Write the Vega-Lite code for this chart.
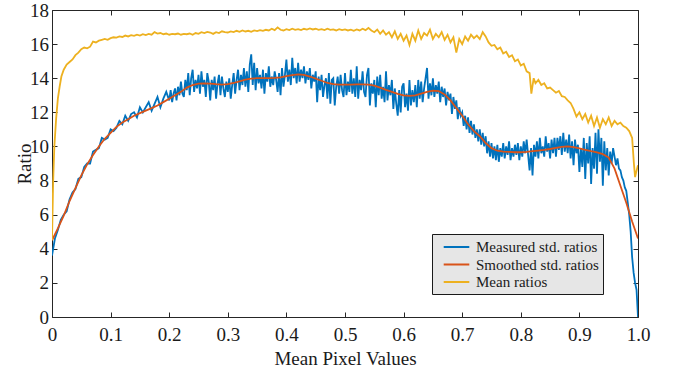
{
  "$schema": "https://vega.github.io/schema/vega-lite/v6.json",
  "width": 586,
  "height": 307,
  "autosize": {"type": "none"},
  "padding": {"left": 52, "top": 10, "right": 39, "bottom": 55},
  "background": "white",
  "config": {
    "view": {"stroke": "#262626", "strokeWidth": 1},
    "font": "Liberation Serif",
    "axis": {"grid": false, "domain": false, "tickColor": "#262626", "tickWidth": 1, "labelColor": "#1a1a1a", "titleColor": "#1a1a1a", "labelFont": "Liberation Serif", "titleFont": "Liberation Serif", "labelFontSize": 19, "titleFontSize": 19, "titleFontWeight": "normal"}
  },
  "data": {"values": [
    {"x":0,"m":3.6},{"x":0.005,"m":4.6},{"x":0.01,"m":5.1},{"x":0.015,"m":5.7},{"x":0.02,"m":6.0},{"x":0.025,"m":6.2},{"x":0.03,"m":6.9},{"x":0.035,"m":7.3},{"x":0.04,"m":7.5},{"x":0.045,"m":8.1},
    {"x":0.05,"m":8.2},{"x":0.055,"m":8.8},{"x":0.06,"m":9.0},{"x":0.065,"m":9.0},{"x":0.07,"m":9.7},{"x":0.075,"m":9.8},{"x":0.08,"m":9.9},{"x":0.085,"m":10.5},{"x":0.09,"m":10.4},{"x":0.095,"m":10.5},
    {"x":0.1,"m":11.0},{"x":0.105,"m":10.9},{"x":0.11,"m":11.1},{"x":0.115,"m":11.5},{"x":0.12,"m":11.3},{"x":0.125,"m":11.8},{"x":0.13,"m":11.5},{"x":0.135,"m":11.9},{"x":0.14,"m":12.0},{"x":0.145,"m":11.7},
    {"x":0.15,"m":12.3},{"x":0.155,"m":12.0},{"x":0.16,"m":12.3},{"x":0.165,"m":12.6},{"x":0.17,"m":12.1},{"x":0.175,"m":12.5},{"x":0.18,"m":12.9},{"x":0.185,"m":12.3},{"x":0.19,"m":12.8},{"x":0.195,"m":13.2},
    {"x":0.2,"m":12.7},{"x":0.2025,"m":13.3},{"x":0.205,"m":12.6},{"x":0.2075,"m":13.1},
    {"x":0.21,"m":13.4},{"x":0.2125,"m":12.7},{"x":0.215,"m":13.5},{"x":0.2175,"m":13.0},
    {"x":0.22,"m":13.8},{"x":0.2225,"m":13.1},{"x":0.225,"m":12.9},{"x":0.2275,"m":13.9},
    {"x":0.23,"m":13.3},{"x":0.2325,"m":14.3},{"x":0.235,"m":13.0},{"x":0.2375,"m":14.0},
    {"x":0.24,"m":14.5},{"x":0.2425,"m":13.2},{"x":0.245,"m":13.9},{"x":0.2475,"m":13.4},
    {"x":0.25,"m":14.2},{"x":0.2525,"m":13.1},{"x":0.255,"m":14.4},{"x":0.2575,"m":13.5},
    {"x":0.26,"m":13.9},{"x":0.2625,"m":12.9},{"x":0.265,"m":14.3},{"x":0.2675,"m":13.8},
    {"x":0.27,"m":12.7},{"x":0.2725,"m":13.9},{"x":0.275,"m":13.3},{"x":0.2775,"m":14.1},
    {"x":0.28,"m":12.8},{"x":0.2825,"m":13.7},{"x":0.285,"m":14.2},{"x":0.2875,"m":13.0},
    {"x":0.29,"m":14.1},{"x":0.2925,"m":13.4},{"x":0.295,"m":12.9},{"x":0.2975,"m":13.8},
    {"x":0.3,"m":13.2},{"x":0.3025,"m":14.0},{"x":0.305,"m":12.8},{"x":0.3075,"m":13.6},
    {"x":0.31,"m":14.3},{"x":0.3125,"m":13.1},{"x":0.315,"m":13.9},{"x":0.3175,"m":14.5},
    {"x":0.32,"m":13.3},{"x":0.3225,"m":14.2},{"x":0.325,"m":13.6},{"x":0.3275,"m":14.6},
    {"x":0.33,"m":13.5},{"x":0.3325,"m":14.4},{"x":0.335,"m":13.2},{"x":0.3375,"m":14.8},
    {"x":0.34,"m":15.4},{"x":0.3425,"m":13.6},{"x":0.345,"m":14.9},{"x":0.3475,"m":13.3},
    {"x":0.35,"m":14.6},{"x":0.3525,"m":13.7},{"x":0.355,"m":14.2},{"x":0.3575,"m":13.4},
    {"x":0.36,"m":14.5},{"x":0.3625,"m":13.1},{"x":0.365,"m":14.3},{"x":0.3675,"m":13.8},
    {"x":0.37,"m":14.7},{"x":0.3725,"m":13.5},{"x":0.375,"m":14.1},{"x":0.3775,"m":13.6},
    {"x":0.38,"m":14.4},{"x":0.3825,"m":13.9},{"x":0.385,"m":13.2},{"x":0.3875,"m":14.3},
    {"x":0.39,"m":13.0},{"x":0.3925,"m":14.6},{"x":0.395,"m":13.5},{"x":0.3975,"m":14.2},
    {"x":0.4,"m":15.1},{"x":0.4025,"m":13.8},{"x":0.405,"m":14.5},{"x":0.4075,"m":13.6},
    {"x":0.41,"m":15.2},{"x":0.4125,"m":14.0},{"x":0.415,"m":14.6},{"x":0.4175,"m":13.7},
    {"x":0.42,"m":14.9},{"x":0.4225,"m":13.8},{"x":0.425,"m":14.5},{"x":0.4275,"m":14.0},
    {"x":0.43,"m":14.7},{"x":0.4325,"m":13.7},{"x":0.435,"m":14.4},{"x":0.4375,"m":13.9},
    {"x":0.44,"m":14.6},{"x":0.4425,"m":13.4},{"x":0.445,"m":14.2},{"x":0.4475,"m":13.8},
    {"x":0.45,"m":14.4},{"x":0.4525,"m":12.6},{"x":0.455,"m":14.1},{"x":0.4575,"m":13.3},
    {"x":0.46,"m":14.2},{"x":0.4625,"m":12.9},{"x":0.465,"m":13.6},{"x":0.4675,"m":14.0},
    {"x":0.47,"m":12.8},{"x":0.4725,"m":14.3},{"x":0.475,"m":12.5},{"x":0.4775,"m":13.9},
    {"x":0.48,"m":14.0},{"x":0.4825,"m":12.4},{"x":0.485,"m":13.5},{"x":0.4875,"m":14.1},
    {"x":0.49,"m":13.1},{"x":0.4925,"m":14.2},{"x":0.495,"m":13.3},{"x":0.4975,"m":12.9},
    {"x":0.5,"m":14.3},{"x":0.5025,"m":13.0},{"x":0.505,"m":13.8},{"x":0.5075,"m":13.2},
    {"x":0.51,"m":14.5},{"x":0.5125,"m":13.1},{"x":0.515,"m":14.0},{"x":0.5175,"m":12.9},
    {"x":0.52,"m":14.7},{"x":0.5225,"m":12.8},{"x":0.525,"m":13.9},{"x":0.5275,"m":13.3},
    {"x":0.53,"m":14.4},{"x":0.5325,"m":13.2},{"x":0.535,"m":12.9},{"x":0.5375,"m":14.2},
    {"x":0.54,"m":14.6},{"x":0.5425,"m":12.4},{"x":0.545,"m":13.7},{"x":0.5475,"m":13.1},
    {"x":0.55,"m":13.9},{"x":0.5525,"m":12.3},{"x":0.555,"m":14.1},{"x":0.5575,"m":13.0},
    {"x":0.56,"m":14.2},{"x":0.5625,"m":12.8},{"x":0.565,"m":13.5},{"x":0.5675,"m":12.6},
    {"x":0.57,"m":14.4},{"x":0.5725,"m":12.7},{"x":0.575,"m":13.6},{"x":0.5775,"m":13.0},
    {"x":0.58,"m":13.9},{"x":0.5825,"m":12.2},{"x":0.585,"m":13.4},{"x":0.5875,"m":12.5},
    {"x":0.59,"m":11.8},{"x":0.5925,"m":13.3},{"x":0.595,"m":12.0},{"x":0.5975,"m":13.5},
    {"x":0.6,"m":13.7},{"x":0.6025,"m":12.3},{"x":0.605,"m":13.1},{"x":0.6075,"m":12.1},
    {"x":0.61,"m":13.9},{"x":0.6125,"m":12.4},{"x":0.615,"m":13.3},{"x":0.6175,"m":12.6},
    {"x":0.62,"m":13.6},{"x":0.6225,"m":12.3},{"x":0.625,"m":13.9},{"x":0.6275,"m":12.8},
    {"x":0.63,"m":13.8},{"x":0.6325,"m":12.6},{"x":0.635,"m":13.4},{"x":0.6375,"m":14.0},
    {"x":0.64,"m":14.6},{"x":0.6425,"m":12.8},{"x":0.645,"m":13.7},{"x":0.6475,"m":13.0},
    {"x":0.65,"m":14.0},{"x":0.6525,"m":12.9},{"x":0.655,"m":13.6},{"x":0.6575,"m":13.1},
    {"x":0.66,"m":13.8},{"x":0.6625,"m":12.6},{"x":0.665,"m":13.5},{"x":0.6675,"m":12.9},
    {"x":0.67,"m":13.4},{"x":0.6725,"m":12.4},{"x":0.675,"m":13.2},{"x":0.6775,"m":12.7},
    {"x":0.68,"m":13.1},{"x":0.6825,"m":11.9},{"x":0.685,"m":12.9},{"x":0.6875,"m":12.2},
    {"x":0.69,"m":12.7},{"x":0.6925,"m":11.6},{"x":0.695,"m":12.3},{"x":0.6975,"m":11.8},
    {"x":0.7,"m":12.0},{"x":0.7025,"m":11.2},{"x":0.705,"m":11.8},{"x":0.7075,"m":11.0},
    {"x":0.71,"m":11.7},{"x":0.7125,"m":10.8},{"x":0.715,"m":11.5},{"x":0.7175,"m":10.7},
    {"x":0.72,"m":11.3},{"x":0.7225,"m":10.5},{"x":0.725,"m":11.0},{"x":0.7275,"m":10.3},
    {"x":0.73,"m":11.0},{"x":0.7325,"m":10.1},{"x":0.735,"m":10.8},{"x":0.7375,"m":10.0},
    {"x":0.74,"m":10.6},{"x":0.7425,"m":9.6},{"x":0.745,"m":10.3},{"x":0.7475,"m":9.4},
    {"x":0.75,"m":10.2},{"x":0.7525,"m":9.3},{"x":0.755,"m":10.0},{"x":0.7575,"m":9.2},
    {"x":0.76,"m":10.1},{"x":0.7625,"m":9.1},{"x":0.765,"m":9.9},{"x":0.7675,"m":9.4},
    {"x":0.77,"m":10.2},{"x":0.7725,"m":9.3},{"x":0.775,"m":10.0},{"x":0.7775,"m":9.5},
    {"x":0.78,"m":10.3},{"x":0.7825,"m":9.2},{"x":0.785,"m":9.9},{"x":0.7875,"m":9.4},
    {"x":0.79,"m":10.1},{"x":0.7925,"m":9.5},{"x":0.795,"m":10.2},{"x":0.7975,"m":9.2},
    {"x":0.8,"m":10.0},{"x":0.8025,"m":9.4},{"x":0.805,"m":10.3},{"x":0.8075,"m":9.6},
    {"x":0.81,"m":10.4},{"x":0.8125,"m":9.5},{"x":0.815,"m":8.6},{"x":0.8175,"m":9.9},
    {"x":0.82,"m":8.3},{"x":0.8225,"m":10.1},{"x":0.825,"m":9.4},{"x":0.8275,"m":10.3},
    {"x":0.83,"m":9.3},{"x":0.8325,"m":10.5},{"x":0.835,"m":9.6},{"x":0.8375,"m":10.0},
    {"x":0.84,"m":9.4},{"x":0.8425,"m":10.6},{"x":0.845,"m":9.7},{"x":0.8475,"m":10.2},
    {"x":0.85,"m":9.3},{"x":0.8525,"m":10.4},{"x":0.855,"m":9.6},{"x":0.8575,"m":10.5},
    {"x":0.86,"m":9.4},{"x":0.8625,"m":10.5},{"x":0.865,"m":9.8},{"x":0.8675,"m":10.6},
    {"x":0.87,"m":9.5},{"x":0.8725,"m":10.8},{"x":0.875,"m":9.7},{"x":0.8775,"m":10.4},
    {"x":0.88,"m":9.6},{"x":0.8825,"m":10.7},{"x":0.885,"m":9.3},{"x":0.8875,"m":10.3},
    {"x":0.89,"m":8.9},{"x":0.8925,"m":10.4},{"x":0.895,"m":9.6},{"x":0.8975,"m":10.1},
    {"x":0.9,"m":8.5},{"x":0.9025,"m":9.9},{"x":0.905,"m":8.8},{"x":0.9075,"m":10.5},
    {"x":0.91,"m":8.1},{"x":0.9125,"m":10.2},{"x":0.915,"m":9.0},{"x":0.9175,"m":10.6},
    {"x":0.92,"m":7.8},{"x":0.9225,"m":9.9},{"x":0.925,"m":8.7},{"x":0.9275,"m":10.8},
    {"x":0.93,"m":8.4},{"x":0.9325,"m":11.0},{"x":0.935,"m":9.1},{"x":0.9375,"m":10.5},
    {"x":0.94,"m":7.7},{"x":0.9425,"m":10.3},{"x":0.945,"m":8.6},{"x":0.9475,"m":9.9},
    {"x":0.95,"m":8.3},{"x":0.9525,"m":9.7},{"x":0.955,"m":9.0},{"x":0.9575,"m":9.9},
    {"x":0.96,"m":9.4},{"x":0.9625,"m":8.9},{"x":0.965,"m":9.3},{"x":0.9675,"m":8.7},
    {"x":0.97,"m":8.6},{"x":0.9725,"m":8.2},{"x":0.975,"m":8.0},{"x":0.9775,"m":7.6},
    {"x":0.98,"m":7.4},{"x":0.9825,"m":6.7},{"x":0.985,"m":6.0},{"x":0.9875,"m":5.0},
    {"x":0.99,"m":3.5},{"x":0.9925,"m":2.6},{"x":0.995,"m":2.0},{"x":0.9975,"m":1.6},{"x":1.0,"m":0.0},

    {"x":0,"s":4.5,"n":4.5},
    {"x":0.002,"n":8.0},
    {"x":0.004,"n":10.0},
    {"x":0.007,"n":11.6},
    {"x":0.01,"s":5.2,"n":12.8},
    {"x":0.013,"n":13.5},
    {"x":0.016,"n":14.1},
    {"x":0.02,"s":5.95,"n":14.5},
    {"x":0.025,"n":14.8},
    {"x":0.03,"s":6.8,"n":14.95},
    {"x":0.035,"n":15.1},
    {"x":0.04,"s":7.55,"n":15.35},
    {"x":0.045,"n":15.5},
    {"x":0.05,"s":8.3,"n":15.7},
    {"x":0.055,"n":15.8},
    {"x":0.06,"s":8.95,"n":15.75},
    {"x":0.065,"n":15.85},
    {"x":0.07,"s":9.5,"n":16.15},
    {"x":0.075,"n":16.1},
    {"x":0.08,"s":10.0,"n":16.2},
    {"x":0.085,"n":16.25},
    {"x":0.09,"s":10.45,"n":16.3},
    {"x":0.095,"n":16.25},
    {"x":0.1,"s":10.8,"n":16.35},
    {"x":0.105,"n":16.4},
    {"x":0.11,"s":11.15,"n":16.38},
    {"x":0.115,"n":16.45},
    {"x":0.12,"s":11.4,"n":16.42},
    {"x":0.125,"n":16.5},
    {"x":0.13,"s":11.6,"n":16.45},
    {"x":0.135,"n":16.52},
    {"x":0.14,"s":11.8,"n":16.48},
    {"x":0.145,"n":16.55},
    {"x":0.15,"s":11.95,"n":16.5},
    {"x":0.155,"n":16.58},
    {"x":0.16,"s":12.1,"n":16.53},
    {"x":0.165,"n":16.6},
    {"x":0.17,"s":12.25,"n":16.55},
    {"x":0.175,"n":16.7},
    {"x":0.18,"s":12.4,"n":16.62},
    {"x":0.185,"n":16.65},
    {"x":0.19,"s":12.6,"n":16.58},
    {"x":0.195,"n":16.62},
    {"x":0.2,"s":12.8,"n":16.55},
    {"x":0.205,"n":16.6},
    {"x":0.21,"s":13.0,"n":16.58},
    {"x":0.215,"n":16.62},
    {"x":0.22,"s":13.2,"n":16.55},
    {"x":0.225,"n":16.6},
    {"x":0.23,"s":13.45,"n":16.58},
    {"x":0.235,"n":16.62},
    {"x":0.24,"s":13.6,"n":16.55},
    {"x":0.245,"n":16.65},
    {"x":0.25,"s":13.68,"n":16.6},
    {"x":0.255,"n":16.7},
    {"x":0.26,"s":13.7,"n":16.65},
    {"x":0.265,"n":16.72},
    {"x":0.27,"s":13.68,"n":16.68},
    {"x":0.275,"n":16.6},
    {"x":0.28,"s":13.65,"n":16.7},
    {"x":0.285,"n":16.65},
    {"x":0.29,"s":13.63,"n":16.75},
    {"x":0.295,"n":16.7},
    {"x":0.3,"s":13.65,"n":16.68},
    {"x":0.305,"n":16.74},
    {"x":0.31,"s":13.72,"n":16.7},
    {"x":0.315,"n":16.78},
    {"x":0.32,"s":13.82,"n":16.72},
    {"x":0.325,"n":16.8},
    {"x":0.33,"s":13.92,"n":16.74},
    {"x":0.335,"n":16.78},
    {"x":0.34,"s":13.98,"n":16.72},
    {"x":0.345,"n":16.8},
    {"x":0.35,"s":14.0,"n":16.76},
    {"x":0.355,"n":16.82},
    {"x":0.36,"s":14.0,"n":16.78},
    {"x":0.365,"n":16.84},
    {"x":0.37,"s":14.0,"n":16.8},
    {"x":0.375,"n":16.9},
    {"x":0.38,"s":14.02,"n":16.82},
    {"x":0.385,"n":16.98},
    {"x":0.39,"s":14.05,"n":16.84},
    {"x":0.395,"n":16.8},
    {"x":0.4,"s":14.12,"n":16.88},
    {"x":0.405,"n":16.82},
    {"x":0.41,"s":14.18,"n":16.9},
    {"x":0.415,"n":16.84},
    {"x":0.42,"s":14.22,"n":16.88},
    {"x":0.425,"n":16.82},
    {"x":0.43,"s":14.2,"n":16.9},
    {"x":0.435,"n":16.85},
    {"x":0.44,"s":14.1,"n":16.92},
    {"x":0.445,"n":16.86},
    {"x":0.45,"s":13.98,"n":16.9},
    {"x":0.455,"n":16.84},
    {"x":0.46,"s":13.85,"n":16.88},
    {"x":0.465,"n":16.82},
    {"x":0.47,"s":13.72,"n":16.9},
    {"x":0.475,"n":16.84},
    {"x":0.48,"s":13.65,"n":16.86},
    {"x":0.485,"n":16.8},
    {"x":0.49,"s":13.62,"n":16.88},
    {"x":0.495,"n":16.82},
    {"x":0.5,"s":13.62,"n":16.86},
    {"x":0.505,"n":16.8},
    {"x":0.51,"s":13.63,"n":16.85},
    {"x":0.515,"n":16.78},
    {"x":0.52,"s":13.64,"n":16.86},
    {"x":0.525,"n":16.8},
    {"x":0.53,"s":13.64,"n":16.9},
    {"x":0.535,"n":16.82},
    {"x":0.54,"s":13.62,"n":16.95},
    {"x":0.545,"n":16.8},
    {"x":0.55,"s":13.56,"n":16.7},
    {"x":0.555,"n":16.85},
    {"x":0.56,"s":13.45,"n":16.6},
    {"x":0.565,"n":16.8},
    {"x":0.57,"s":13.32,"n":16.55},
    {"x":0.575,"n":16.7},
    {"x":0.58,"s":13.2,"n":16.4},
    {"x":0.585,"n":16.75},
    {"x":0.59,"s":13.08,"n":16.3},
    {"x":0.595,"n":16.6},
    {"x":0.6,"s":13.0,"n":16.2},
    {"x":0.605,"n":16.5},
    {"x":0.61,"s":12.97,"n":15.95},
    {"x":0.615,"n":16.6},
    {"x":0.62,"s":13.0,"n":16.2},
    {"x":0.625,"n":16.8},
    {"x":0.63,"s":13.1,"n":16.3},
    {"x":0.635,"n":16.65},
    {"x":0.64,"s":13.2,"n":16.5},
    {"x":0.645,"n":16.85},
    {"x":0.65,"s":13.27,"n":16.3},
    {"x":0.655,"n":16.6},
    {"x":0.66,"s":13.25,"n":16.4},
    {"x":0.665,"n":16.7},
    {"x":0.67,"s":13.05,"n":16.25},
    {"x":0.675,"n":16.55},
    {"x":0.68,"s":12.7,"n":16.1},
    {"x":0.685,"n":16.4},
    {"x":0.69,"s":12.25,"n":15.5},
    {"x":0.695,"n":16.3},
    {"x":0.7,"s":11.8,"n":16.0},
    {"x":0.705,"n":16.45},
    {"x":0.71,"s":11.3,"n":16.2},
    {"x":0.715,"n":16.55},
    {"x":0.72,"s":10.9,"n":16.35},
    {"x":0.725,"n":16.5},
    {"x":0.73,"s":10.6,"n":16.3},
    {"x":0.735,"n":16.7},
    {"x":0.74,"s":10.2,"n":16.45},
    {"x":0.745,"n":16.1},
    {"x":0.75,"s":9.9,"n":15.9},
    {"x":0.755,"n":15.95},
    {"x":0.76,"s":9.75,"n":15.7},
    {"x":0.765,"n":15.8},
    {"x":0.77,"s":9.7,"n":15.45},
    {"x":0.775,"n":15.55},
    {"x":0.78,"s":9.68,"n":15.25},
    {"x":0.785,"n":15.35},
    {"x":0.79,"s":9.66,"n":15.0},
    {"x":0.795,"n":15.1},
    {"x":0.8,"s":9.66,"n":14.75},
    {"x":0.805,"n":14.85},
    {"x":0.81,"s":9.68,"n":14.4},
    {"x":0.815,"n":14.3},
    {"x":0.818,"n":13.1},
    {"x":0.82,"s":9.72},
    {"x":0.822,"n":14.0},
    {"x":0.825,"n":13.7},
    {"x":0.83,"s":9.76,"n":13.9},
    {"x":0.835,"n":13.6},
    {"x":0.84,"s":9.8,"n":13.7},
    {"x":0.845,"n":13.4},
    {"x":0.85,"s":9.85,"n":13.45},
    {"x":0.855,"n":13.3},
    {"x":0.86,"s":9.92,"n":13.15},
    {"x":0.865,"n":13.25},
    {"x":0.87,"s":9.98,"n":12.95},
    {"x":0.875,"n":12.9},
    {"x":0.88,"s":10.0,"n":12.7},
    {"x":0.885,"n":12.55},
    {"x":0.89,"s":9.96,"n":12.2},
    {"x":0.895,"n":11.75},
    {"x":0.9,"s":9.88,"n":12.0},
    {"x":0.905,"n":11.6},
    {"x":0.91,"s":9.8,"n":11.9},
    {"x":0.915,"n":11.4},
    {"x":0.92,"s":9.72,"n":11.8},
    {"x":0.925,"n":11.2},
    {"x":0.93,"s":9.65,"n":11.7},
    {"x":0.935,"n":11.1},
    {"x":0.94,"s":9.55,"n":11.6},
    {"x":0.945,"n":11.3},
    {"x":0.95,"s":9.35,"n":11.7},
    {"x":0.955,"n":11.2},
    {"x":0.96,"s":8.7,"n":11.5},
    {"x":0.965,"n":11.3},
    {"x":0.97,"s":7.7,"n":11.4},
    {"x":0.975,"n":11.2},
    {"x":0.98,"s":6.7,"n":11.1},
    {"x":0.985,"n":10.9},
    {"x":0.99,"s":5.6,"n":10.5},
    {"x":0.993,"n":9.0},
    {"x":0.995,"n":8.2},
    {"x":0.997,"n":8.5},
    {"x":1.0,"s":4.6,"n":8.9}
  ]},
  "transform": [
    {"fold": ["m", "s", "n"], "as": ["k", "y"]},
    {"filter": "isValid(datum.y)"}
  ],
  "layer": [
    {
      "mark": {"type": "line", "strokeWidth": 1.8, "clip": true},
      "encoding": {
        "x": {"field": "x", "type": "quantitative", "scale": {"domain": [0, 1], "nice": false},
              "axis": {"orient": "bottom", "values": [0,0.1,0.2,0.3,0.4,0.5,0.6,0.7,0.8,0.9,1.0], "labelExpr": "datum.value == 0 ? '0' : format(datum.value, '.1f')", "tickSize": -5, "labelPadding": 28, "labelBaseline": "alphabetic", "title": "Mean Pixel Values", "titleBaseline": "alphabetic", "titleY": 47, "labelFlush": false}},
        "y": {"field": "y", "type": "quantitative", "scale": {"domain": [0, 18], "nice": false},
              "axis": {"orient": "left", "values": [0,2,4,6,8,10,12,14,16,18], "tickSize": -5, "labelPadding": 8.5, "title": "Ratio", "titleBaseline": "alphabetic", "titleAngle": 270, "titleX": -22, "titleY": 153.5, "titleAlign": "center", "labelFlush": false}},
        "color": {"field": "k", "type": "nominal",
                  "scale": {"domain": ["m", "s", "n"], "range": ["#0072BD", "#D95319", "#EDB120"]},
                  "legend": {"orient": "none", "legendX": 380, "legendY": 224, "title": null, "symbolType": "M-1.6,0H1.6", "symbolSize": 256, "symbolStrokeWidth": 2, "symbolOffset": 11.5, "labelFontSize": 15, "labelFont": "Liberation Serif", "labelColor": "#1a1a1a", "fillColor": "#e6e6e6", "strokeColor": "#1a1a1a", "padding": 4, "rowPadding": 0.5, "labelOffset": 10.5,
                             "labelExpr": "datum.value == 'm' ? 'Measured std. ratios  ' : datum.value == 's' ? 'Smoothed std. ratios  ' : 'Mean ratios  '"}}
      }
    },
    {
      "transform": [{"filter": "datum.k == 's'"}],
      "mark": {"type": "line", "strokeOpacity": 0},
      "encoding": {
        "x": {"field": "x", "type": "quantitative",
              "axis": {"orient": "top", "values": [0,0.1,0.2,0.3,0.4,0.5,0.6,0.7,0.8,0.9,1.0], "labels": false, "tickSize": -5, "title": null}},
        "y": {"field": "y", "type": "quantitative",
              "axis": {"orient": "right", "values": [0,2,4,6,8,10,12,14,16,18], "labels": false, "tickSize": -5, "title": null}}
      }
    }
  ],
  "resolve": {"axis": {"x": "independent", "y": "independent"}}
}
